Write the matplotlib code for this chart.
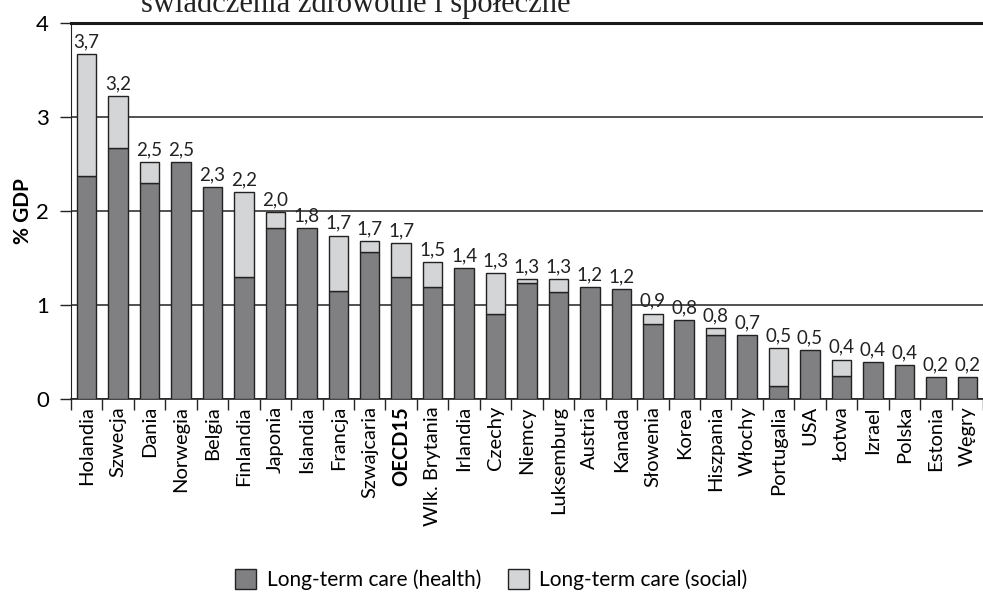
import matplotlib
matplotlib.use("Agg")
import matplotlib.pyplot as plt
import numpy as np

plt.rcParams['font.family'] = ['Lato', 'DejaVu Sans']

# Wydatki na opiekę długoterminową (% PKB)
countries = ['Holandia', 'Szwecja', 'Dania', 'Norwegia', 'Belgia', 'Finlandia',
             'Japonia', 'Islandia', 'Francja', 'Szwajcaria', 'OECD15',
             'Wlk. Brytania', 'Irlandia', 'Czechy', 'Niemcy', 'Luksemburg',
             'Austria', 'Kanada', 'Słowenia', 'Korea', 'Hiszpania', 'Włochy',
             'Portugalia', 'USA', 'Łotwa', 'Izrael', 'Polska', 'Estonia', 'Węgry']
health = [2.37, 2.67, 2.30, 2.52, 2.26, 1.30, 1.82, 1.82, 1.15, 1.56, 1.30,
          1.19, 1.39, 0.91, 1.23, 1.14, 1.19, 1.17, 0.80, 0.84, 0.68, 0.68,
          0.14, 0.52, 0.25, 0.39, 0.36, 0.23, 0.23]
social = [1.30, 0.55, 0.22, 0.00, 0.00, 0.90, 0.17, 0.00, 0.59, 0.12, 0.36,
          0.27, 0.00, 0.43, 0.05, 0.14, 0.00, 0.00, 0.11, 0.00, 0.08, 0.00,
          0.40, 0.00, 0.17, 0.00, 0.00, 0.00, 0.00]

health = np.array(health)
social = np.array(social)
total = health + social
x = np.arange(len(countries))

fig = plt.figure(figsize=(9.83, 5.93), dpi=100)
ax = fig.add_axes([0.0722, 0.327, 0.9278, 0.634])

dark = '#808083'
light = '#d4d5d6'
edge = '#222222'

ax.bar(x, health, width=0.62, color=dark, edgecolor=edge, linewidth=1.0,
       label='Long-term care (health)', zorder=3)
has_social = social > 0
ax.bar(x[has_social], social[has_social], width=0.62, bottom=health[has_social],
       color=light, edgecolor=edge, linewidth=1.0,
       label='Long-term care (social)', zorder=3)

for xi, t in zip(x, total):
    ax.text(xi, t + 0.04, f'{t:.1f}'.replace('.', ','), ha='center', va='bottom',
            fontsize=13.5, color='#222222')

ax.set_xlim(-0.5, len(countries) - 0.5)
ax.set_ylim(0, 4)
ax.set_yticks([0, 1, 2, 3, 4])
ax.yaxis.grid(True, color='#333333', linewidth=1.2, zorder=0)
ax.set_axisbelow(True)

ax.set_xticks(x)
ax.set_xticklabels(countries, rotation=90, fontsize=14.5)
ax.get_xticklabels()[countries.index('OECD15')].set_fontweight('bold')
ax.tick_params(axis='x', length=0, pad=5)
ax.set_xticks(np.arange(-0.5, len(countries)), minor=True)
ax.tick_params(axis='x', which='minor', length=8, width=1.0, color='#222222')
ax.tick_params(axis='y', length=8, width=1.0, color='#222222', labelsize=16,
               pad=8)

ax.spines['right'].set_visible(False)
ax.spines['top'].set_linewidth(2.2)
ax.spines['top'].set_color('#1a1a1a')
ax.spines['left'].set_color('#222222')
ax.spines['bottom'].set_color('#222222')
ax.spines['bottom'].set_linewidth(1.2)

ax.set_ylabel('% GDP', fontsize=15, fontweight='bold', labelpad=2)

fig.text(0.143, 0.979, 'świadczenia zdrowotne i społeczne', fontsize=22,
         family='Liberation Serif', va='baseline', ha='left', color='#222222')

fig.legend(loc='center', bbox_to_anchor=(0.5, 0.022), ncol=2, frameon=False,
           fontsize=15, handlelength=1.0, handleheight=1.1, columnspacing=1.3,
           handletextpad=0.5)

fig.savefig('out.png', dpi=100)
